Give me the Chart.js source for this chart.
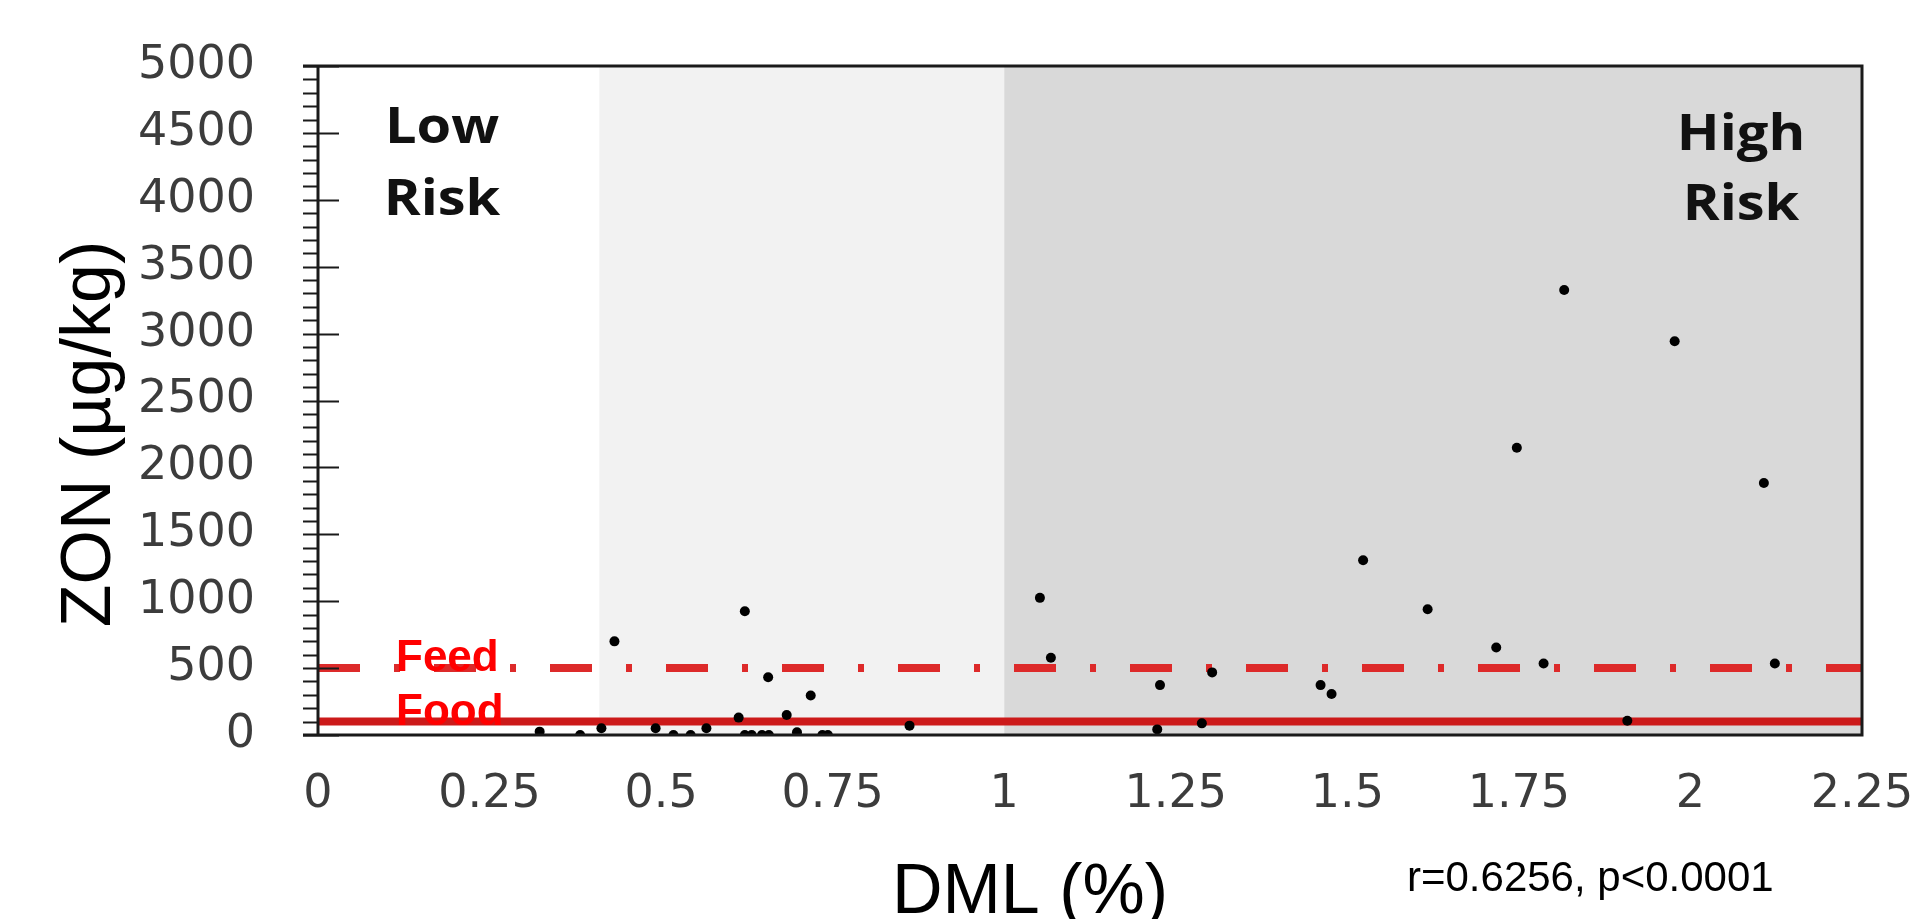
<!DOCTYPE html>
<html>
<head>
<meta charset="utf-8">
<script src="https://cdn.jsdelivr.net/npm/chart.js@4.4.1/dist/chart.umd.min.js"></script>
<style>
  html, body { margin: 0; padding: 0; background: #fff; }
  canvas { display: block; }
</style>
</head>
<body>
<canvas id="zonChart" width="1914" height="919"></canvas>
<script>
// Sample values
const dmlValues = [
  0.323, 0.382, 0.413, 0.432, 0.492, 0.518, 0.543, 0.566, 0.613, 0.622,
  0.622, 0.632, 0.647, 0.657, 0.656, 0.683, 0.698, 0.718, 0.735, 0.743,
  0.862,
  1.052, 1.068, 1.223, 1.227, 1.288, 1.303, 1.461, 1.477, 1.523, 1.617,
  1.717, 1.747, 1.786, 1.816, 1.908, 1.977, 2.107, 2.123
];
const zonValues = [
  25, 0, 50, 700, 50, 0, 0, 50, 130, 925,
  0, 0, 0, 0, 432, 150, 20, 295, 0, 0,
  70,
  1025, 577, 42, 373, 87, 468, 373, 306, 1306, 940,
  654, 2147, 535, 3326, 107, 2943, 1883, 535
];

const xTickLabels = ['0', '0.25', '0.5', '0.75', '1', '1.25', '1.5', '1.75', '2', '2.25'];
const yTickLabels = ['0', '500', '1000', '1500', '2000', '2500', '3000', '3500', '4000', '4500', '5000'];

// Risk zones along DML: low | middle | high
const riskZoneEdges = [0, 0.41, 1.0, 2.25];
const riskZoneColors = ['#ffffff', '#f2f2f2', '#d9d9d9'];

// Regulatory limits (µg/kg)
const limitNames = ['Feed', 'Food'];
const limitValues = [500, 100];

const statsText = 'r=0.6256, p<0.0001';

const points = dmlValues.map((x, i) => ({ x: x, y: zonValues[i] }));
const xMin = riskZoneEdges[0];
const xMax = riskZoneEdges[riskZoneEdges.length - 1];

// shaded risk zones behind the data
const zonePlugin = {
  id: 'zones',
  beforeDatasetsDraw(chart) {
    const { ctx, chartArea, scales } = chart;
    ctx.save();
    for (let i = 0; i < riskZoneEdges.length - 1; i++) {
      const x1 = scales.x.getPixelForValue(riskZoneEdges[i]);
      const x2 = scales.x.getPixelForValue(riskZoneEdges[i + 1]);
      ctx.fillStyle = riskZoneColors[i];
      ctx.fillRect(x1, chartArea.top, x2 - x1, chartArea.bottom - chartArea.top);
    }
    ctx.restore();
  }
};

// frame plus major / minor ticks on the y axis
const framePlugin = {
  id: 'frame',
  afterDatasetsDraw(chart) {
    const { ctx, chartArea, scales } = chart;
    const { left, right, top, bottom } = chartArea;
    ctx.save();
    ctx.strokeStyle = '#1a1a1a';
    ctx.lineWidth = 3;
    ctx.beginPath();
    ctx.moveTo(left - 15, top); ctx.lineTo(right, top);
    ctx.lineTo(right, bottom); ctx.lineTo(left - 15, bottom);
    ctx.moveTo(left, top); ctx.lineTo(left, bottom);
    ctx.stroke();

    ctx.lineWidth = 2;
    ctx.beginPath();
    for (let v = 0; v <= 5000; v += 100) {
      const y = Math.round(scales.y.getPixelForValue(v)) + 0.5;
      const major = v % 500 === 0;
      ctx.moveTo(left - 15, y);
      ctx.lineTo(major ? left + 21 : left, y);
    }
    ctx.stroke();
    ctx.restore();
  }
};

// annotations and axis titles
const textPlugin = {
  id: 'texts',
  afterDraw(chart) {
    const { ctx, chartArea, scales } = chart;
    ctx.save();

    // Low / High risk
    ctx.fillStyle = '#111';
    ctx.font = 'bold 50px "Open Sans"';
    ctx.textAlign = 'center';
    ctx.textBaseline = 'alphabetic';
    const drawStretched = (txt, x, y) => {
      ctx.save();
      ctx.translate(x, y);
      ctx.scale(1.12, 1);
      ctx.fillText(txt, 0, 0);
      ctx.restore();
    };
    drawStretched('Low', 442, 143);
    drawStretched('Risk', 442, 215);
    drawStretched('High', 1741, 150);
    drawStretched('Risk', 1741, 220);

    // limit labels
    ctx.fillStyle = '#ff0000';
    ctx.font = 'bold 44px "Liberation Sans", Arial';
    ctx.textAlign = 'left';
    limitNames.forEach((name, i) => {
      const y = scales.y.getPixelForValue(limitValues[i]);
      ctx.fillText(name, chartArea.left + 78, y + 3);
    });

    // axis titles
    ctx.fillStyle = '#000';
    ctx.font = '70px "Liberation Sans", Arial';
    ctx.textAlign = 'center';
    ctx.fillText('DML (%)', 1030, 913);

    ctx.save();
    ctx.translate(110, 434);
    ctx.rotate(-Math.PI / 2);
    ctx.fillText('ZON (µg/kg)', 0, 0);
    ctx.restore();

    ctx.font = '42px "Liberation Sans", Arial';
    ctx.textAlign = 'left';
    ctx.fillText(statsText, 1407, 891);

    ctx.restore();
  }
};

const limitLine = (value, color, dash) => ({
  type: 'line',
  data: [{ x: xMin, y: value }, { x: xMax, y: value }],
  borderColor: color,
  borderWidth: 8,
  borderDash: dash,
  borderCapStyle: 'butt',
  pointRadius: 0,
  fill: false,
  order: 2
});

const noScalePadding = (scale) => {
  scale.paddingTop = 0;
  scale.paddingBottom = 0;
  scale.paddingLeft = 0;
  scale.paddingRight = 0;
};

const ctx = document.getElementById('zonChart').getContext('2d');
const zonChart = new Chart(ctx, {
  type: 'scatter',
  data: {
    datasets: [
      {
        label: 'ZON vs DML',
        data: points,
        backgroundColor: '#000',
        borderWidth: 0,
        pointRadius: 5,
        order: 1
      },
      limitLine(limitValues[0], '#dd2a2a', [42, 34, 6, 34]),
      limitLine(limitValues[1], '#cc1a1a', [])
    ]
  },
  options: {
    responsive: false,
    animation: false,
    layout: {
      autoPadding: false,
      padding: { top: 66, right: 52, bottom: 0, left: 0 }
    },
    plugins: {
      legend: { display: false },
      tooltip: { enabled: false }
    },
    scales: {
      x: {
        type: 'linear',
        min: xMin,
        max: xMax,
        grid: { display: false, drawTicks: false },
        border: { display: false },
        ticks: {
          stepSize: 0.25,
          padding: 32,
          color: '#3c3c3c',
          font: { family: 'DejaVu Sans', size: 46 },
          callback: (v, i) => xTickLabels[i]
        },
        afterFit: (scale) => { scale.height = 184; noScalePadding(scale); }
      },
      y: {
        min: 0,
        max: 5000,
        grid: { display: false, drawTicks: false },
        border: { display: false },
        ticks: {
          stepSize: 500,
          padding: 63,
          color: '#3c3c3c',
          font: { family: 'DejaVu Sans', size: 46 },
          callback: (v, i) => yTickLabels[i]
        },
        afterFit: (scale) => { scale.width = 318; noScalePadding(scale); }
      }
    }
  },
  plugins: [zonePlugin, framePlugin, textPlugin]
});
</script>
</body>
</html>
